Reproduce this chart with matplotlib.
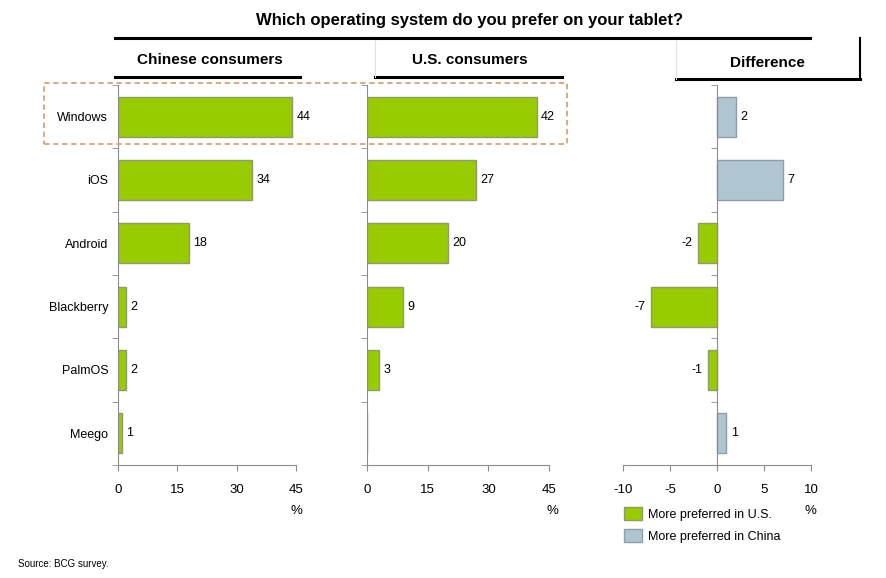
import matplotlib
matplotlib.use('Agg')
import matplotlib.pyplot as plt
import numpy as np
from matplotlib.lines import Line2D
from matplotlib.patches import Rectangle, Patch

plt.rcParams['font.family'] = ['Liberation Sans', 'DejaVu Sans']

# data
systems = ['Windows', 'iOS', 'Android', 'Blackberry', 'PalmOS', 'Meego']
china = [44, 34, 18, 2, 2, 1]
us = [42, 27, 20, 9, 3, 0]
diff = [2, 7, -2, -7, -1, 1]

GREEN = '#99cc00'
GREEN_EDGE = '#8c9c6c'
BLUE = '#afc5d1'
BLUE_EDGE = '#8e9ea8'
AXIS_GRAY = '#8c8c8c'

W, H = 886, 578


def fx(x):
    return x / W


def fy(y):
    return 1 - y / H


fig = plt.figure(figsize=(8.86, 5.78), dpi=100)

top, bottom = 85, 465
panels = [(118, 296), (367, 549), (623, 811)]
axes = []
for left, right in panels:
    ax = fig.add_axes([fx(left), fy(bottom), (right - left) / W, (bottom - top) / H])
    axes.append(ax)

ypos = np.arange(len(systems))
bar_h = 0.63


def style(ax, xlim, xticks, show_labels):
    ax.set_xlim(*xlim)
    ax.set_ylim(len(systems) - 0.5, -0.5)
    for s in ['top', 'right']:
        ax.spines[s].set_visible(False)
    ax.spines['bottom'].set_color(AXIS_GRAY)
    ax.spines['left'].set_color(AXIS_GRAY)
    ax.spines['left'].set_position(('data', 0))
    ax.set_xticks(xticks)
    ax.set_xticklabels([str(t) for t in xticks])
    ax.tick_params(axis='x', length=4, color=AXIS_GRAY, pad=10, labelsize=9.5)
    ax.set_yticks(ypos)
    if show_labels:
        ax.set_yticklabels(systems)
    else:
        ax.set_yticklabels([])
    ax.tick_params(axis='y', which='major', length=0, pad=7, labelsize=9)
    ax.set_yticks(np.arange(-0.5, len(systems), 1), minor=True)
    ax.tick_params(axis='y', which='minor', length=4, color=AXIS_GRAY)


def label_bars(ax, vals, skip_zero=False):
    for y, v in zip(ypos, vals):
        if skip_zero and v == 0:
            continue
        if v >= 0:
            ax.annotate(str(v), (v, y), xytext=(3, 0), textcoords='offset points',
                        ha='left', va='center', fontsize=9)
        else:
            ax.annotate(str(v), (v, y), xytext=(-4, 0), textcoords='offset points',
                        ha='right', va='center', fontsize=9)


ax1, ax2, ax3 = axes
ax1.barh(ypos, china, height=bar_h, color=GREEN, edgecolor=GREEN_EDGE, linewidth=1)
style(ax1, (0, 45), [0, 15, 30, 45], True)
label_bars(ax1, china)

ax2.barh(ypos, us, height=bar_h, color=GREEN, edgecolor=GREEN_EDGE, linewidth=1)
style(ax2, (0, 45), [0, 15, 30, 45], False)
label_bars(ax2, us, skip_zero=True)

diff_colors = [BLUE if d > 0 else GREEN for d in diff]
diff_edges = [BLUE_EDGE if d > 0 else GREEN_EDGE for d in diff]
ax3.barh(ypos, diff, height=bar_h, color=diff_colors, edgecolor=diff_edges, linewidth=1)
style(ax3, (-10, 10), [-10, -5, 0, 5, 10], False)
label_bars(ax3, diff)

# titles and header decorations
fig.text(fx(470), fy(20), 'Which operating system do you prefer on your tablet?',
         ha='center', va='center', fontsize=12, fontweight='bold')
fig.text(fx(210), fy(60), 'Chinese consumers', ha='center', va='center',
         fontsize=11, fontweight='bold')
fig.text(fx(470), fy(60), 'U.S. consumers', ha='center', va='center',
         fontsize=11, fontweight='bold')
fig.text(fx(767), fy(63), 'Difference', ha='center', va='center',
         fontsize=11, fontweight='bold')

lines = [
    ((115, 810), (38, 38), 'black', 2.2),
    ((115, 300), (77, 77), 'black', 2.2),
    ((375, 562), (77, 77), 'black', 2.2),
    ((676, 860), (79, 79), 'black', 2.2),
    ((860, 860), (38, 79), 'black', 1.5),
    ((375, 375), (40, 77), '#e0e0e0', 0.8),
    ((676, 676), (40, 79), '#e0e0e0', 0.8),
]
for xs, ys, c, lw in lines:
    fig.add_artist(Line2D([fx(x) for x in xs], [fy(y) for y in ys],
                          transform=fig.transFigure, color=c, linewidth=lw))

fig.add_artist(Rectangle((fx(44), fy(144)), (567 - 44) / W, (144 - 83) / H,
                         transform=fig.transFigure, fill=False,
                         edgecolor='#d9a273', linestyle=(0, (3, 2)), linewidth=1.3))

for x in [296, 552, 810]:
    fig.text(fx(x), fy(511), '%', ha='center', va='center', fontsize=9.5)

handles = [Patch(facecolor=GREEN, edgecolor=GREEN_EDGE, label='More preferred in U.S.'),
           Patch(facecolor=BLUE, edgecolor=BLUE_EDGE, label='More preferred in China')]
fig.legend(handles=handles, loc='upper left', bbox_to_anchor=(fx(619), fy(502)),
           frameon=False, fontsize=9, handlelength=1.4, handleheight=1.2,
           handletextpad=0.5, labelspacing=0.7, borderaxespad=0)

fig.text(fx(18), fy(564), 'Source: BCG survey.', ha='left', va='center', fontsize=7)

fig.savefig('out.png', dpi=100)
